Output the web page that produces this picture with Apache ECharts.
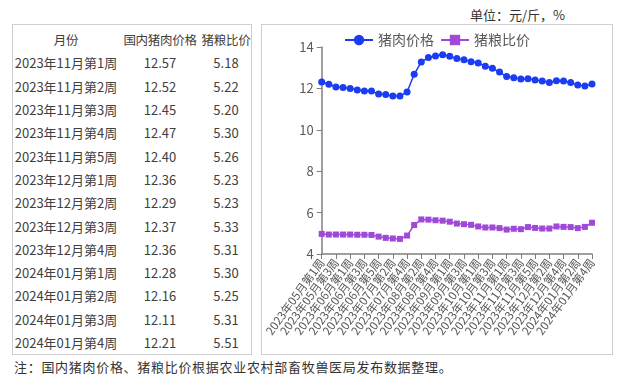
<!DOCTYPE html>
<html>
<head>
<meta charset="utf-8">
<script src="https://cdn.jsdelivr.net/npm/echarts@6/dist/echarts.min.js"></script>
<style>
  html, body { margin: 0; padding: 0; background: #fff; }
  body { width: 623px; height: 378px; position: relative; overflow: hidden; font-family: "Noto Sans CJK SC", sans-serif; }
  #unit { position: absolute; left: 470px; top: 5px; font-size: 13px; color: #333; }
  #tbl { position: absolute; left: 12px; top: 24px; width: 238px; height: 329px; border: 1px solid #cfcfcf; }
  table { border-collapse: collapse; table-layout: fixed; width: 238px; margin-top: 3px; font-size: 13px; color: #404040; }
  td, th { height: 23.3px; padding: 0; text-align: center; white-space: nowrap; font-weight: normal; }
  th { font-size: 12.5px; letter-spacing: -0.3px; }
  #chart { position: absolute; left: 261px; top: 24px; width: 350px; height: 329px; border: 1px solid #cfcfcf; }
  #note { position: absolute; left: 14px; top: 357px; font-size: 13px; color: #333; letter-spacing: 0.7px; }
</style>
</head>
<body>
<div id="unit">单位：元/斤，%</div>
<div id="tbl"><table id="t"></table></div>
<div id="chart"></div>
<div id="note">注：国内猪肉价格、猪粮比价根据农业农村部畜牧兽医局发布数据整理。</div>
<script>
// weekly snapshots, 2023-05 wk1 .. 2024-01 wk4
const weeks = [
  "2023年05月第1周", "2023年05月第2周", "2023年05月第3周", "2023年05月第4周",
  "2023年06月第1周", "2023年06月第2周", "2023年06月第3周", "2023年06月第4周", "2023年06月第5周",
  "2023年07月第1周", "2023年07月第2周", "2023年07月第3周", "2023年07月第4周",
  "2023年08月第1周", "2023年08月第2周", "2023年08月第3周", "2023年08月第4周", "2023年08月第5周",
  "2023年09月第1周", "2023年09月第2周", "2023年09月第3周", "2023年09月第4周",
  "2023年10月第1周", "2023年10月第2周", "2023年10月第3周", "2023年10月第4周",
  "2023年11月第1周", "2023年11月第2周", "2023年11月第3周", "2023年11月第4周", "2023年11月第5周",
  "2023年12月第1周", "2023年12月第2周", "2023年12月第3周", "2023年12月第4周",
  "2024年01月第1周", "2024年01月第2周", "2024年01月第3周", "2024年01月第4周"
];
const porkPrice = [
  12.31, 12.20, 12.07, 12.04, 11.99, 11.92, 11.87, 11.87, 11.73,
  11.70, 11.63, 11.63, 11.83, 12.68, 13.28, 13.49, 13.57, 13.63,
  13.55, 13.44, 13.39, 13.29, 13.23, 13.07, 12.97, 12.79,
  12.57, 12.52, 12.45, 12.47, 12.40, 12.36, 12.29, 12.37, 12.36,
  12.28, 12.16, 12.11, 12.21
];
const hogGrainRatio = [
  4.97, 4.94, 4.94, 4.94, 4.94, 4.93, 4.93, 4.92, 4.84,
  4.78, 4.75, 4.73, 4.89, 5.40, 5.67, 5.66, 5.63, 5.61,
  5.56, 5.47, 5.44, 5.41, 5.33, 5.28, 5.28, 5.25,
  5.18, 5.22, 5.20, 5.30, 5.26, 5.23, 5.23, 5.33, 5.31,
  5.30, 5.25, 5.31, 5.51
];
const tableHeader = ["月份", "国内猪肉价格", "猪粮比价"];
const tableRows = 13; // table lists the latest 13 weeks

const BLUE = "#1b3cf2";
const PURPLE = "#a048d8";
const FONT = '"Noto Sans CJK SC", sans-serif';

// left-hand table
const t = document.getElementById("t");
t.innerHTML =
  '<colgroup><col style="width:106px"><col style="width:82px"><col style="width:50px"></colgroup>' +
  "<tr>" + tableHeader.map((h) => "<th>" + h + "</th>").join("") + "</tr>" +
  weeks.slice(-tableRows).map((w, i) => {
    const k = weeks.length - tableRows + i;
    return "<tr><td>" + w + "</td><td>" + porkPrice[k].toFixed(2) + "</td><td>" + hogGrainRatio[k].toFixed(2) + "</td></tr>";
  }).join("");

const chart = echarts.init(document.getElementById("chart"));
chart.setOption({
  animation: false,
  textStyle: { fontFamily: FONT },
  legend: {
    top: 3, left: "center",
    itemWidth: 28, itemHeight: 13, itemGap: 6,
    textStyle: { fontSize: 14, color: "#595959" },
    data: ["猪肉价格", "猪粮比价"],
  },
  grid: { left: 56, right: 20, top: 22, bottom: 100 },
  xAxis: {
    type: "category",
    data: weeks,
    boundaryGap: false,
    axisLine: { lineStyle: { color: "#7f7f7f", width: 1.5 } },
    axisTick: { interval: 1, length: 5, lineStyle: { color: "#7f7f7f" } },
    axisLabel: {
      interval: 1, rotate: 54, fontSize: 11.5, color: "#595959", margin: 6,
      showMinLabel: true, showMaxLabel: true, hideOverlap: false,
    },
  },
  yAxis: {
    type: "value",
    min: 4, max: 14, interval: 2,
    axisLine: { show: true, lineStyle: { color: "#7f7f7f", width: 1.5 } },
    axisTick: { show: true, length: 5, lineStyle: { color: "#7f7f7f" } },
    splitLine: { show: false },
    axisLabel: { fontSize: 13, color: "#595959", margin: 8 },
  },
  series: [
    {
      name: "猪肉价格", type: "line", data: porkPrice,
      symbol: "circle", symbolSize: 7, showAllSymbol: true,
      itemStyle: { color: BLUE }, lineStyle: { color: BLUE, width: 1.5 },
    },
    {
      name: "猪粮比价", type: "line", data: hogGrainRatio,
      symbol: "rect", symbolSize: 6, showAllSymbol: true,
      itemStyle: { color: PURPLE }, lineStyle: { color: PURPLE, width: 1.5 },
    },
  ],
});
</script>
</body>
</html>
